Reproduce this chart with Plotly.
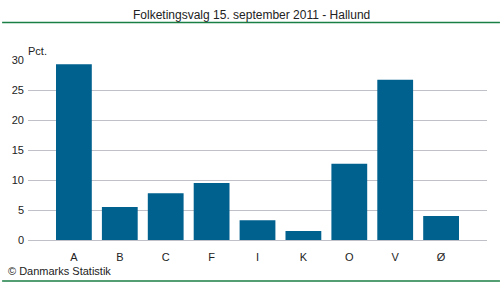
import plotly.graph_objects as go

categories = ["A", "B", "C", "F", "I", "K", "O", "V", "Ø"]
values = [29.3, 5.5, 7.8, 9.5, 3.3, 1.5, 12.7, 26.7, 4.0]
y_ticks = [0, 5, 10, 15, 20, 25, 30]

FONT = "Liberation Sans"

fig = go.Figure(go.Bar(x=list(range(len(categories))), y=values,
                       marker=dict(color="#00618f", line=dict(width=0)),
                       hoverinfo="skip"))

line_y_top = 1 + (60 - 22.5) / 180
line_y_bot = -(281 - 240) / 180

fig.update_layout(
    width=500, height=282,
    margin=dict(l=26, r=13, t=60, b=42),
    paper_bgcolor="white", plot_bgcolor="white",
    bargap=0.22,
    showlegend=False,
    font=dict(family=FONT, size=11, color="#222"),
    xaxis=dict(range=[-1, len(categories)], tickvals=list(range(len(categories))),
               ticktext=categories, showgrid=False, zeroline=False,
               showline=False, ticks="", tickfont=dict(size=11, color="#222"),
               ticklabelstandoff=9),
    yaxis=dict(range=[0, 30], tickvals=y_ticks, showgrid=True, gridcolor="#c0c0c8",
               gridwidth=1, zeroline=True, zerolinecolor="#c0c0c8", zerolinewidth=1,
               ticks="", tickfont=dict(size=11, color="#222"), ticklabelstandoff=3),
    shapes=[
        dict(type="line", xref="paper", yref="paper", x0=-26/461, x1=(461+13)/461,
             y0=line_y_top, y1=line_y_top, line=dict(color="#1a7f45", width=1.5)),
        dict(type="line", xref="paper", yref="paper", x0=-26/461, x1=(461+13)/461,
             y0=line_y_bot, y1=line_y_bot, line=dict(color="#1a7f45", width=1.5)),
    ],
    annotations=[
        dict(text="Folketingsvalg 15. september 2011 - Hallund", xref="paper", yref="paper",
             x=(250-26)/461, y=1 + (60-15)/180, xanchor="center", yanchor="middle",
             showarrow=False, font=dict(size=12, color="#222")),
        dict(text="Pct.", xref="paper", yref="paper", x=-2/461, y=1 + (60-51)/180,
             xanchor="left", yanchor="middle", showarrow=False, font=dict(size=11, color="#222")),
        dict(text="© Danmarks Statistik", xref="paper", yref="paper", x=-22/461,
             y=-(271-240)/180, xanchor="left", yanchor="middle", showarrow=False,
             font=dict(size=11, color="#222")),
    ],
)

fig.write_html("out.html")
